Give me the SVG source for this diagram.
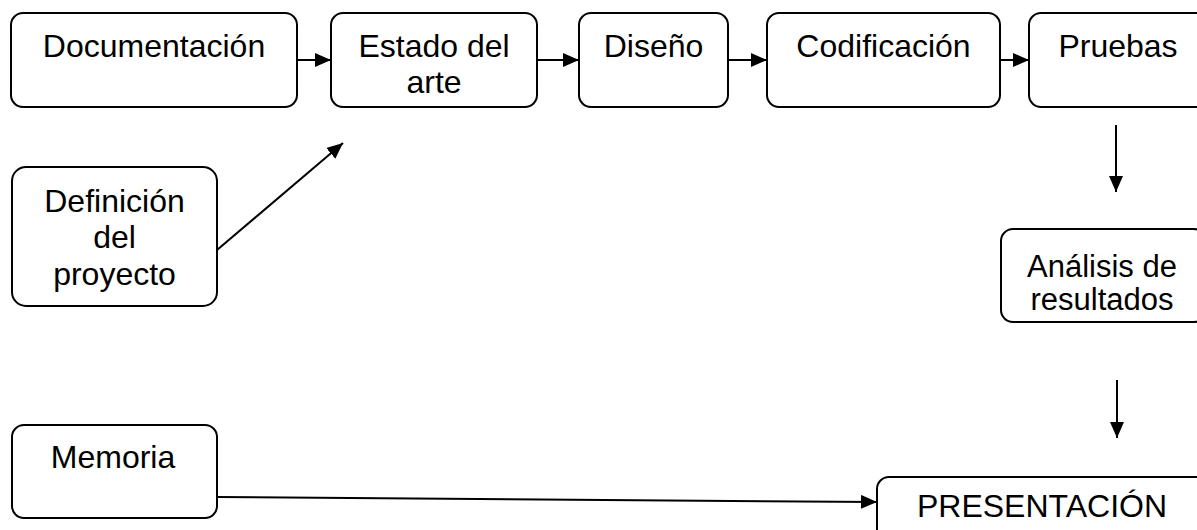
<svg xmlns="http://www.w3.org/2000/svg" width="1197" height="530" viewBox="0 0 1197 530">
<style>
.box{fill:#fff;stroke:#000;stroke-width:2}
.t{font-family:"Liberation Sans",Arial,sans-serif;font-size:32px;fill:#000;text-anchor:middle}
.s{font-size:31px}
.c{fill:none;stroke:#000;stroke-width:2}
</style>
<defs>
<marker id="ah" markerUnits="userSpaceOnUse" markerWidth="18" markerHeight="16" refX="16" refY="7" orient="auto">
<path d="M0,0 L16,7 L0,14 Z" fill="#000"/>
</marker>
</defs>
<rect width="1197" height="530" fill="#fff"/>
<g id="connectors">
<line class="c" x1="297" y1="60" x2="331" y2="60" marker-end="url(#ah)"/>
<line class="c" x1="537" y1="60" x2="579" y2="60" marker-end="url(#ah)"/>
<line class="c" x1="728" y1="60" x2="767" y2="60" marker-end="url(#ah)"/>
<line class="c" x1="1000" y1="60" x2="1029" y2="60" marker-end="url(#ah)"/>
<line class="c" x1="217" y1="250" x2="343" y2="143" marker-end="url(#ah)"/>
<line class="c" x1="1116" y1="125" x2="1116" y2="192" marker-end="url(#ah)"/>
<line class="c" x1="1117" y1="380" x2="1117" y2="438" marker-end="url(#ah)"/>
<line class="c" x1="217" y1="497" x2="877" y2="502" marker-end="url(#ah)"/>
</g>
<g id="documentacion">
<rect class="box" x="11" y="13" width="286" height="94" rx="12"/>
<text class="t" x="154" y="57">Documentación</text>
</g>
<g id="estado">
<rect class="box" x="331" y="13" width="206" height="94" rx="12"/>
<text class="t" x="434" y="57">Estado del</text>
<text class="t" x="434" y="93">arte</text>
</g>
<g id="diseno">
<rect class="box" x="579" y="13" width="149" height="94" rx="12"/>
<text class="t" x="653.5" y="57">Diseño</text>
</g>
<g id="codificacion">
<rect class="box" x="767" y="13" width="233" height="94" rx="12"/>
<text class="t" x="883.5" y="57">Codificación</text>
</g>
<g id="pruebas">
<rect class="box" x="1029" y="13" width="180" height="94" rx="12"/>
<text class="t" x="1118" y="57">Pruebas</text>
</g>
<g id="definicion">
<rect class="box" x="12" y="167" width="205" height="139" rx="14"/>
<text class="t" x="114.5" y="212">Definición</text>
<text class="t" x="114.5" y="248">del</text>
<text class="t" x="114.5" y="285">proyecto</text>
</g>
<g id="analisis">
<rect class="box" x="1001" y="229" width="205" height="93" rx="12"/>
<text class="t s" x="1102" y="277">Análisis de</text>
<text class="t s" x="1102" y="310">resultados</text>
</g>
<g id="memoria">
<rect class="box" x="12" y="425" width="205" height="93" rx="12"/>
<text class="t" x="113" y="468">Memoria</text>
</g>
<g id="presentacion">
<rect class="box" x="877" y="477" width="340" height="80" rx="12"/>
<text class="t" x="1042" y="517">PRESENTACIÓN</text>
</g>
</svg>
